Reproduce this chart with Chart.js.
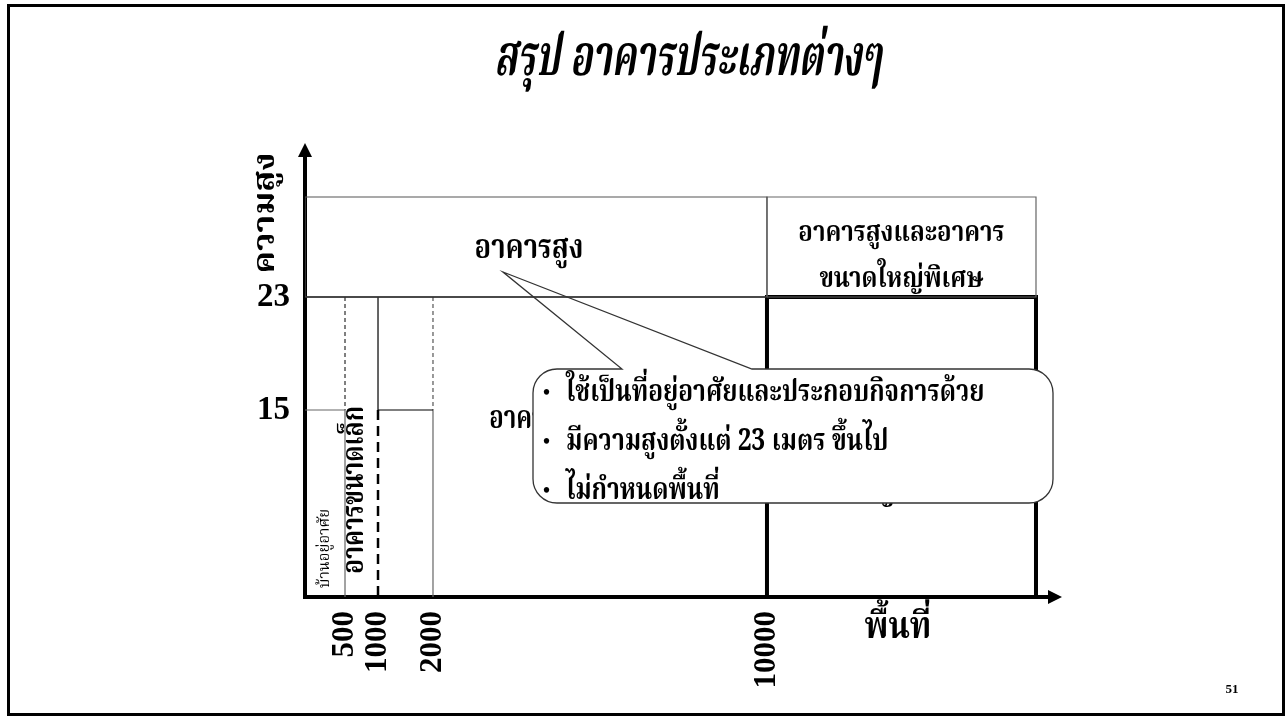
<!DOCTYPE html>
<html>
<head>
<meta charset="utf-8">
<script src="https://cdn.jsdelivr.net/npm/chart.js@4/dist/chart.umd.min.js"></script>
<style>
  html, body { margin: 0; padding: 0; background: #fff; }
  canvas { display: block; }
</style>
</head>
<body>
<canvas id="chart" width="1288" height="721"></canvas>
<script>
// tick values on both axes
const areaTicks = [500, 1000, 2000, 10000];
const heightTicks = [15, 23];
const areaMax = 15000;
const heightMax = 35;

// zone outlines, as [area (m2), height (m)]
const highRiseBox = [[0, 23], [10000, 23], [10000, 31], [0, 31], [0, 23]];
const specialTopBox = [[10000, 23], [14000, 23], [14000, 31], [10000, 31], [10000, 23]];
const specialBox = [[10000, 0], [10000, 23], [14000, 23], [14000, 0]];
const midRiseLine = [[0, 23], [10000, 23]];
const houseBox = [[0, 15], [500, 15], [500, 0]];
const smallStep = [[1000, 23], [1000, 15], [2000, 15]];
const smallEdge = [[2000, 15], [2000, 0]];
const dashed500 = [[500, 23], [500, 15]];
const dashed2000 = [[2000, 23], [2000, 15]];
const sizeDivider = [[1000, 15], [1000, 0]];

// zone labels
const chartTitle = 'สรุป อาคารประเภทต่างๆ';
const highRiseLabel = 'อาคารสูง';
const specialTopLabel = ['อาคารสูงและอาคาร', 'ขนาดใหญ่พิเศษ'];
const largeLabel = 'อาคารขนาดใหญ่';
const specialLabel = ['อาคารขนาด', 'ใหญ่พิเศษ'];
const smallLabel = 'อาคารขนาดเล็ก';
const houseLabel = 'บ้านอยู่อาศัย';
const calloutLines = [
  'ใช้เป็นที่อยู่อาศัยและประกอบกิจการด้วย',
  'มีความสูงตั้งแต่ 23 เมตร ขึ้นไป',
  'ไม่กำหนดพื้นที่'
];

const thaiFont = "'Noto Serif Thai', 'Noto Sans Thai', 'TH Sarabun New', Garuda, Loma, Norasi, 'DejaVu Serif', serif";
const numFont = "'Liberation Serif', 'DejaVu Serif', serif";

// scale that maps break values onto chosen fractions of the axis
class BreakScale extends Chart.LinearScale {
  _toDecimal(value) {
    const { values, fractions } = this.options.breaks;
    if (value <= values[0]) return fractions[0];
    for (let i = 1; i < values.length; i++) {
      if (value <= values[i]) {
        const t = (value - values[i - 1]) / (values[i] - values[i - 1]);
        return fractions[i - 1] + t * (fractions[i] - fractions[i - 1]);
      }
    }
    return fractions[fractions.length - 1];
  }
  getPixelForValue(value) {
    return this.getPixelForDecimal(this._toDecimal(value));
  }
  getValueForPixel(pixel) {
    const d = this.getDecimalForPixel(pixel);
    const { values, fractions } = this.options.breaks;
    for (let i = 1; i < fractions.length; i++) {
      if (d <= fractions[i]) {
        const t = (d - fractions[i - 1]) / (fractions[i] - fractions[i - 1]);
        return values[i - 1] + t * (values[i] - values[i - 1]);
      }
    }
    return values[values.length - 1];
  }
}
BreakScale.id = 'breaks';
BreakScale.defaults = Chart.LinearScale.defaults;
Chart.register(BreakScale);

const pts = arr => arr.map(([x, y]) => ({ x, y }));

function outline(data, color, width, dash) {
  return {
    data: pts(data),
    showLine: true,
    borderColor: color,
    borderWidth: width,
    borderDash: dash || [],
    pointRadius: 0,
    fill: false,
    tension: 0
  };
}

const labelsPlugin = {
  id: 'labels',
  beforeDraw(chart) {
    const ctx = chart.ctx;
    ctx.save();
    ctx.fillStyle = '#fff';
    ctx.fillRect(0, 0, chart.width, chart.height);
    ctx.strokeStyle = '#000';
    ctx.lineWidth = 3;
    ctx.strokeRect(8.5, 5.5, 1275, 709);
    ctx.restore();
  },
  afterDraw(chart) {
    const ctx = chart.ctx;
    const x = chart.scales.x, y = chart.scales.y;
    const area = chart.chartArea;
    ctx.save();

    // arrow heads
    ctx.fillStyle = '#000';
    ctx.beginPath();
    ctx.moveTo(area.left - 7, area.top + 2);
    ctx.lineTo(area.left, area.top - 12);
    ctx.lineTo(area.left + 7, area.top + 2);
    ctx.fill();
    ctx.beginPath();
    ctx.moveTo(area.right - 2, area.bottom - 7);
    ctx.lineTo(area.right + 12, area.bottom);
    ctx.lineTo(area.right - 2, area.bottom + 7);
    ctx.fill();

    // narrow, tall letters like the slide's Thai face
    const text = (s, px, py, font, rot, sx = 0.92, sy = 1.2) => {
      ctx.save();
      ctx.translate(px, py);
      if (rot) ctx.rotate(rot);
      ctx.scale(sx, sy);
      ctx.font = font;
      ctx.fillText(s, 0, 0);
      ctx.restore();
    };
    ctx.textAlign = 'center';
    ctx.textBaseline = 'middle';
    ctx.fillStyle = '#000';

    text(chartTitle, 688, 66, 'italic bold 44px ' + thaiFont, 0, 0.84, 1.3);

    // axis titles
    text('ความสูง', 269, 213, 'bold 28px ' + thaiFont, -Math.PI / 2, 1.22, 1.05);
    text('พื้นที่', 898, 632, 'bold 32px ' + thaiFont, 0, 1, 1.15);

    // zone names
    text(highRiseLabel, x.getPixelForValue(4300), y.getPixelForValue(26.6), 'bold 28px ' + thaiFont, 0, 0.98, 1.2);
    text(specialTopLabel[0], x.getPixelForValue(12000), y.getPixelForValue(27) - 11, 'bold 24px ' + thaiFont, 0, 1.0, 1.2);
    text(specialTopLabel[1], x.getPixelForValue(12000), y.getPixelForValue(27) + 35, 'bold 24px ' + thaiFont, 0, 1.0, 1.2);
    text(largeLabel, x.getPixelForValue(5400), y.getPixelForValue(14), 'bold 26px ' + thaiFont);
    text(specialLabel[0], x.getPixelForValue(12000), y.getPixelForValue(12), 'bold 26px ' + thaiFont);
    text(specialLabel[1], x.getPixelForValue(12000), y.getPixelForValue(8.3), 'bold 26px ' + thaiFont);
    text(smallLabel, x.getPixelForValue(700), y.getPixelForValue(8.6), 'bold 25px ' + thaiFont, -Math.PI / 2, 0.98, 1.2);
    text(houseLabel, x.getPixelForValue(270), y.getPixelForValue(3.9), '15px ' + thaiFont, -Math.PI / 2, 1, 1.1);

    // callout with pointer to the high-rise label
    const L = 533, R = 1053, T = 369, B = 503, r = 24;
    const tipX = 503, tipY = 272;
    ctx.fillStyle = '#fff';
    ctx.beginPath();
    ctx.moveTo(L + r, T);
    ctx.arcTo(R, T, R, B, r);
    ctx.arcTo(R, B, L, B, r);
    ctx.arcTo(L, B, L, T, r);
    ctx.arcTo(L, T, R, T, r);
    ctx.closePath();
    ctx.fill();

    ctx.beginPath();
    ctx.moveTo(L + r, T);
    ctx.lineTo(622, T);
    ctx.lineTo(tipX, tipY);
    ctx.lineTo(752, T);
    ctx.lineTo(R - r, T);
    ctx.arcTo(R, T, R, T + r, r);
    ctx.lineTo(R, B - r);
    ctx.arcTo(R, B, R - r, B, r);
    ctx.lineTo(L + r, B);
    ctx.arcTo(L, B, L, B - r, r);
    ctx.lineTo(L, T + r);
    ctx.arcTo(L, T, L + r, T, r);
    ctx.closePath();
    ctx.strokeStyle = '#333';
    ctx.lineWidth = 1.3;
    ctx.stroke();

    ctx.fillStyle = '#000';
    ctx.textAlign = 'left';
    calloutLines.forEach((s, i) => {
      const ly = 396 + i * 49;
      text('•', 543, ly - 2, 'bold 20px ' + numFont, 0, 1, 1);
      text(s, 566, ly, 'bold 25px ' + thaiFont, 0, 0.98, 1.22);
    });

    // page number
    ctx.textAlign = 'center';
    text('51', 1232, 690, 'bold 13px ' + numFont, 0, 1, 1);
    ctx.restore();
  }
};

new Chart(document.getElementById('chart'), {
  type: 'scatter',
  data: {
    datasets: [
      outline(highRiseBox, '#555', 1.2),
      outline(specialTopBox, '#666', 1.2),
      outline(midRiseLine, '#000', 1.3),
      outline(houseBox, '#666', 1.2),
      outline(smallStep, '#000', 1.2),
      outline(smallEdge, '#666', 1.2),
      outline(dashed500, '#000', 1, [4, 3]),
      outline(dashed2000, '#333', 1, [4, 3]),
      outline(sizeDivider, '#000', 2.5, [10, 6]),
      outline(specialBox, '#000', 4)
    ]
  },
  options: {
    responsive: false,
    animation: false,
    layout: { padding: { left: 0, right: 238, top: 155, bottom: 0 } },
    plugins: {
      legend: { display: false },
      tooltip: { enabled: false },
      title: { display: false }
    },
    scales: {
      x: {
        type: 'breaks',
        min: 0,
        max: areaMax,
        breaks: { values: [0, 500, 1000, 2000, 10000, 14000, 15000], fractions: [0, 0.0537, 0.098, 0.1718, 0.6201, 0.9812, 1] },
        afterBuildTicks: s => { s.ticks = areaTicks.map(v => ({ value: v })); },
        afterFit: s => { s.height = 124; },
        grid: { display: false, drawTicks: false },
        border: { display: true, color: '#000', width: 4 },
        ticks: {
          autoSkip: false,
          minRotation: 90,
          maxRotation: 90,
          padding: 14,
          color: '#000',
          font: { family: numFont, size: 31, weight: 'bold' },
          callback: v => String(v)
        }
      },
      y: {
        type: 'breaks',
        min: 0,
        max: heightMax,
        breaks: { values: [0, 15, 23, 31, 35], fractions: [0, 0.4231, 0.6787, 0.905, 1] },
        afterBuildTicks: s => { s.ticks = heightTicks.map(v => ({ value: v })); },
        afterFit: s => { s.width = 305; },
        grid: { display: false, drawTicks: false },
        border: { display: true, color: '#000', width: 4 },
        ticks: {
          padding: 15,
          color: '#000',
          font: { family: numFont, size: 33, weight: 'bold' },
          callback: v => String(v)
        }
      }
    }
  },
  plugins: [labelsPlugin]
});
</script>
</body>
</html>
